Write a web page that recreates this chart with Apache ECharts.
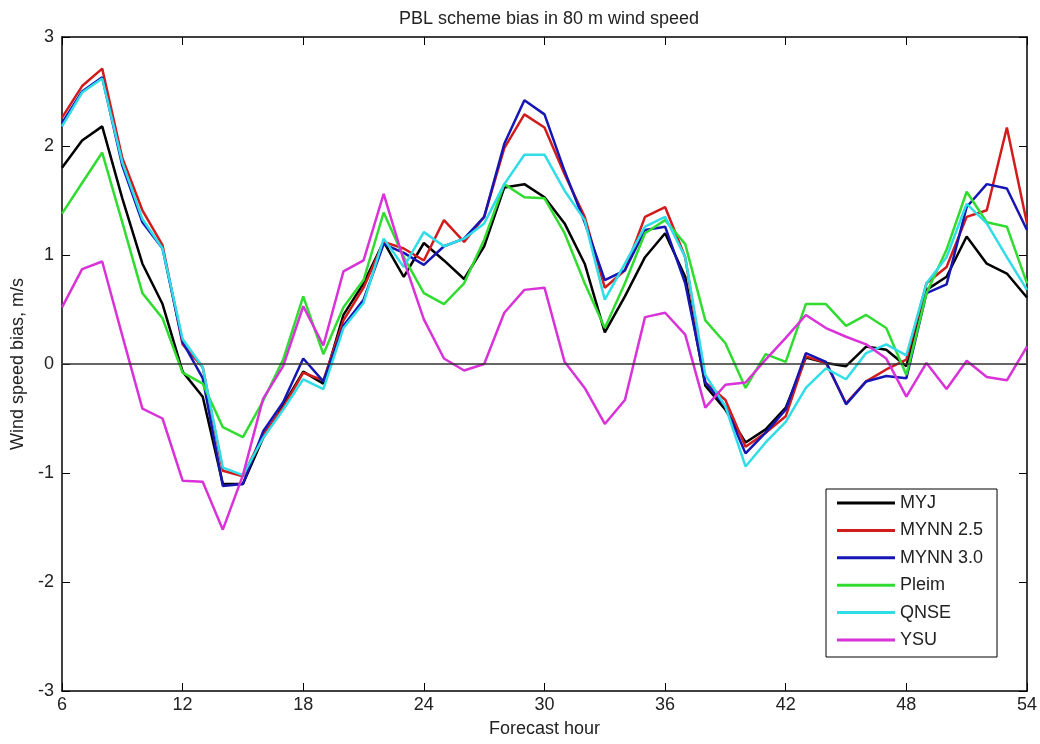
<!DOCTYPE html>
<html>
<head>
  <meta charset="UTF-8">
  <title>PBL scheme bias in 80 m wind speed</title>
  <script src="https://cdn.jsdelivr.net/npm/echarts@6/dist/echarts.min.js"></script>
  <style>
    html, body { margin: 0; padding: 0; background: #fff; }
    #chart { width: 1040px; height: 744px; }
  </style>
</head>
<body>
  <div id="chart"></div>
  <script>
    // forecast hours (x axis)
    var hours = [6, 7, 8, 9, 10, 11, 12, 13, 14, 15, 16, 17, 18, 19, 20, 21, 22, 23, 24, 25,
                 26, 27, 28, 29, 30, 31, 32, 33, 34, 35, 36, 37, 38, 39, 40, 41, 42, 43, 44, 45,
                 46, 47, 48, 49, 50, 51, 52, 53, 54];
    var xTicks = [6, 12, 18, 24, 30, 36, 42, 48, 54];
    var yTicks = [-3, -2, -1, 0, 1, 2, 3];

    // wind speed bias, m/s
    var myj = [1.80, 2.05, 2.18, 1.52, 0.92, 0.55, -0.07, -0.30, -1.10, -1.10,
               -0.68, -0.38, -0.07, -0.18, 0.45, 0.74, 1.12, 0.80, 1.11, 0.95,
               0.78, 1.08, 1.62, 1.65, 1.53, 1.29, 0.92, 0.29, 0.62, 0.98,
               1.20, 0.80, -0.20, -0.42, -0.72, -0.60, -0.40, 0.06, 0.01, -0.02,
               0.16, 0.13, -0.02, 0.68, 0.80, 1.17, 0.92, 0.83, 0.61];
    var mynn25 = [2.26, 2.55, 2.71, 1.89, 1.41, 1.09, 0.18, -0.03, -0.98, -1.03,
                  -0.65, -0.40, -0.08, -0.15, 0.40, 0.70, 1.12, 1.06, 0.95, 1.32,
                  1.12, 1.35, 1.98, 2.29, 2.17, 1.74, 1.35, 0.70, 0.86, 1.35,
                  1.44, 0.98, -0.17, -0.33, -0.76, -0.63, -0.48, 0.07, 0.01, -0.36,
                  -0.16, -0.05, 0.04, 0.74, 0.89, 1.35, 1.41, 2.17, 1.29];
    var mynn30 = [2.21, 2.50, 2.63, 1.82, 1.30, 1.06, 0.20, -0.13, -1.12, -1.10,
                  -0.62, -0.35, 0.05, -0.16, 0.35, 0.59, 1.10, 1.02, 0.91, 1.08,
                  1.15, 1.35, 2.02, 2.42, 2.29, 1.77, 1.30, 0.77, 0.86, 1.23,
                  1.26, 0.74, -0.17, -0.39, -0.82, -0.63, -0.42, 0.10, 0.02, -0.37,
                  -0.16, -0.11, -0.13, 0.65, 0.73, 1.44, 1.65, 1.61, 1.23];
    var pleim = [1.38, 1.66, 1.94, 1.30, 0.65, 0.42, -0.08, -0.18, -0.58, -0.67,
                 -0.34, 0.04, 0.62, 0.09, 0.52, 0.77, 1.39, 0.98, 0.65, 0.55,
                 0.74, 1.14, 1.65, 1.53, 1.52, 1.20, 0.74, 0.33, 0.74, 1.20,
                 1.32, 1.10, 0.40, 0.19, -0.22, 0.09, 0.02, 0.55, 0.55, 0.35,
                 0.45, 0.33, -0.10, 0.65, 1.05, 1.58, 1.30, 1.26, 0.74];
    var qnse = [2.18, 2.49, 2.62, 1.85, 1.33, 1.06, 0.23, -0.03, -0.95, -1.02,
                -0.68, -0.42, -0.14, -0.23, 0.33, 0.56, 1.15, 0.89, 1.21, 1.08,
                1.15, 1.29, 1.65, 1.92, 1.92, 1.59, 1.32, 0.59, 0.92, 1.26,
                1.35, 0.98, -0.10, -0.39, -0.94, -0.72, -0.53, -0.22, -0.04, -0.14,
                0.10, 0.18, 0.08, 0.74, 0.98, 1.47, 1.29, 0.98, 0.68];
    var ysu = [0.52, 0.87, 0.94, 0.26, -0.41, -0.50, -1.07, -1.08, -1.52, -1.02,
               -0.32, -0.02, 0.53, 0.17, 0.85, 0.95, 1.56, 0.95, 0.41, 0.05,
               -0.06, 0.00, 0.47, 0.68, 0.70, 0.02, -0.22, -0.55, -0.33, 0.43,
               0.47, 0.27, -0.40, -0.19, -0.17, 0.04, 0.24, 0.45, 0.33, 0.25,
               0.18, 0.05, -0.30, 0.01, -0.23, 0.03, -0.12, -0.15, 0.16];

    var names = ['MYJ', 'MYNN 2.5', 'MYNN 3.0', 'Pleim', 'QNSE', 'YSU'];
    var values = [myj, mynn25, mynn30, pleim, qnse, ysu];
    var colors = ['#000000', '#d21c1c', '#1616b4', '#30dc30', '#30dce6', '#d832d8'];

    var font = "'Liberation Sans', Arial, sans-serif";
    var chart = echarts.init(document.getElementById('chart'));

    function pairs(arr) {
      return hours.map(function (h, i) { return [h, arr[i]]; });
    }

    var series = names.map(function (n, i) {
      var s = {
        name: n, type: 'line', data: pairs(values[i]),
        symbol: 'none', color: colors[i],
        lineStyle: { width: 2.5, color: colors[i] },
        animation: false
      };
      if (i === 0) {
        // zero reference line
        s.markLine = {
          silent: true, symbol: 'none', label: { show: false },
          lineStyle: { color: '#333', width: 1.5, type: 'solid' },
          data: [{ yAxis: 0 }]
        };
      }
      return s;
    });

    var xBase = {
      type: 'value', min: xTicks[0], max: xTicks[xTicks.length - 1], interval: 6,
      splitLine: { show: false },
      axisLine: { show: true, onZero: false, lineStyle: { color: '#000', width: 1.5 } },
      axisTick: { show: true, inside: true, length: 8, lineStyle: { color: '#000', width: 1 } }
    };
    var yBase = {
      type: 'value', min: yTicks[0], max: yTicks[yTicks.length - 1], interval: 1,
      splitLine: { show: false },
      axisLine: { show: true, onZero: false, lineStyle: { color: '#000', width: 1.5 } },
      axisTick: { show: true, inside: true, length: 8, lineStyle: { color: '#000', width: 1 } }
    };

    chart.setOption({
      backgroundColor: '#fff',
      animation: false,
      textStyle: { fontFamily: font },
      title: {
        text: 'PBL scheme bias in 80 m wind speed',
        left: 544, top: 5, textAlign: 'center',
        textStyle: { fontFamily: font, fontSize: 18, fontWeight: 'normal', color: '#222' }
      },
      grid: { left: 62, right: 10, top: 37, bottom: 53 },
      legend: {
        orient: 'vertical', left: 826, top: 489,
        backgroundColor: '#fff', borderColor: '#000', borderWidth: 1, borderRadius: 0,
        padding: [5, 14, 8, 11],
        icon: 'rect', itemWidth: 58, itemHeight: 3, itemGap: 9.4,
        textStyle: { fontFamily: font, fontSize: 18, lineHeight: 18, color: '#222' },
        data: names
      },
      xAxis: [
        Object.assign({}, xBase, {
          position: 'bottom',
          name: 'Forecast hour', nameLocation: 'middle', nameGap: 29,
          nameTextStyle: { fontFamily: font, fontSize: 18, color: '#222' },
          axisLabel: { margin: 5, fontFamily: font, fontSize: 18, color: '#222' }
        }),
        Object.assign({}, xBase, { position: 'top', axisLabel: { show: false } })
      ],
      yAxis: [
        Object.assign({}, yBase, {
          position: 'left',
          name: 'Wind speed bias, m/s', nameLocation: 'middle', nameGap: 34,
          nameTextStyle: { fontFamily: font, fontSize: 18, color: '#222' },
          axisLabel: { margin: 8, fontFamily: font, fontSize: 18, color: '#222' }
        }),
        Object.assign({}, yBase, { position: 'right', axisLabel: { show: false } })
      ],
      series: series
    });
  </script>
</body>
</html>
